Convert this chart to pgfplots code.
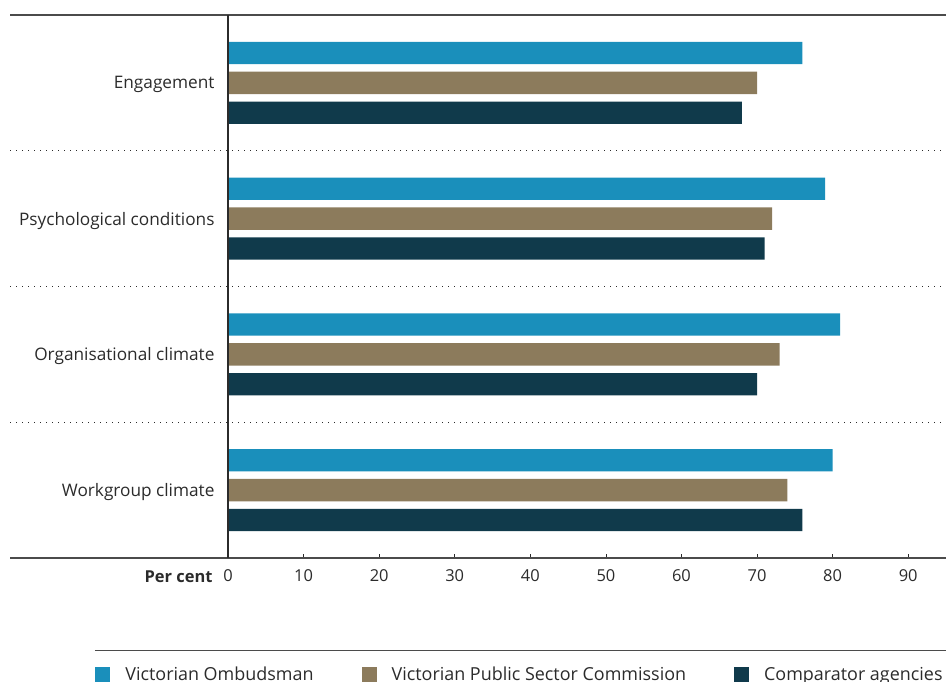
\documentclass[border=0pt]{standalone}
\usepackage{pgfplots}
\pgfplotsset{compat=1.18}
\usepackage{fontspec}
\setmainfont{Open Sans}
\definecolor{cvo}{HTML}{1A8FBB}
\definecolor{cvp}{HTML}{8C7B5C}
\definecolor{cca}{HTML}{103A4B}
\definecolor{txt}{HTML}{2B2B2B}
\pgfplotstableread{
cat vo vp ca
3 76 70 68
2 79 72 71
1 81 73 70
0 80 74 76
}\data
\begin{document}
\begin{tikzpicture}[x=1bp,y=1bp]
\useasboundingbox (0,0) rectangle (949,-682);
\begin{axis}[
  at={(228bp,-558bp)}, anchor=south west,
  scale only axis, width=718bp, height=543bp,
  xmin=0, xmax=95, ymin=-0.5, ymax=3.5,
  clip=false,
  xbar, bar width=0.165,
  axis line style={draw=none},
  xtick={0,10,...,90},
  xtick pos=bottom, xtick align=inside,
  major x tick style={draw=txt, line width=0.8bp},
  major tick length=4bp,
  ytick={0,1,2,3},
  yticklabels={Workgroup climate,Organisational climate,Psychological conditions,Engagement},
  major y tick style={draw=none},
  ytick pos=left,
  yticklabel style={font=\fontsize{17.3}{20}\selectfont, text=txt, xshift=-6bp, yshift=-2bp},
  xticklabel style={font=\fontsize{16.5}{20}\selectfont, text=txt, yshift=-8bp},
  /pgf/number format/assume math mode=true,
  legend columns=3,
  legend style={draw=none, fill=none, at={(axis description cs:-0.185,-0.214)}, anchor=west,
    font=\fontsize{18}{22}\selectfont, text=txt, inner sep=0pt,
    /tikz/every even column/.append style={column sep=46bp}},
  legend image code/.code={\fill[#1] (0bp,-7.5bp) rectangle (15bp,7.5bp); \path[draw=none, fill=none] (0bp,0bp) rectangle (28bp,0.1bp);},
]
\addplot[fill=cvo, draw=none, bar shift=0.22] table[x=vo, y=cat] {\data};
\addplot[fill=cvp, draw=none, bar shift=0] table[x=vp, y=cat] {\data};
\addplot[fill=cca, draw=none, bar shift=-0.22] table[x=ca, y=cat] {\data};
\legend{Victorian Ombudsman, Victorian Public Sector Commission, Comparator agencies}
\draw[dash pattern=on 1.3bp off 4.7bp, line width=1.2bp, draw=txt] (axis cs:-28.84,0.5) -- (axis cs:95,0.5);
\draw[dash pattern=on 1.3bp off 4.7bp, line width=1.2bp, draw=txt] (axis cs:-28.84,1.5) -- (axis cs:95,1.5);
\draw[dash pattern=on 1.3bp off 4.7bp, line width=1.2bp, draw=txt] (axis cs:-28.84,2.5) -- (axis cs:95,2.5);
\draw[line width=1.3bp, draw=txt!85] (axis cs:-28.84,3.5) -- (axis cs:95,3.5);
\draw[line width=1.3bp, draw=txt!85] (axis cs:-28.84,-0.5) -- (axis cs:95,-0.5);
\draw[line width=1.3bp, draw=txt] (axis cs:0,-0.5) -- (axis cs:0,3.5);
\draw[line width=1.3bp, draw=txt!85] (axis cs:-17.6,-1.18) -- (axis cs:95,-1.18);
\node[anchor=base east, font=\fontsize{16.5}{20}\selectfont\bfseries, text=txt] at ([xshift=-12bp, yshift=-24bp]axis cs:0,-0.5) {Per cent};
\end{axis}
\end{tikzpicture}
\end{document}
